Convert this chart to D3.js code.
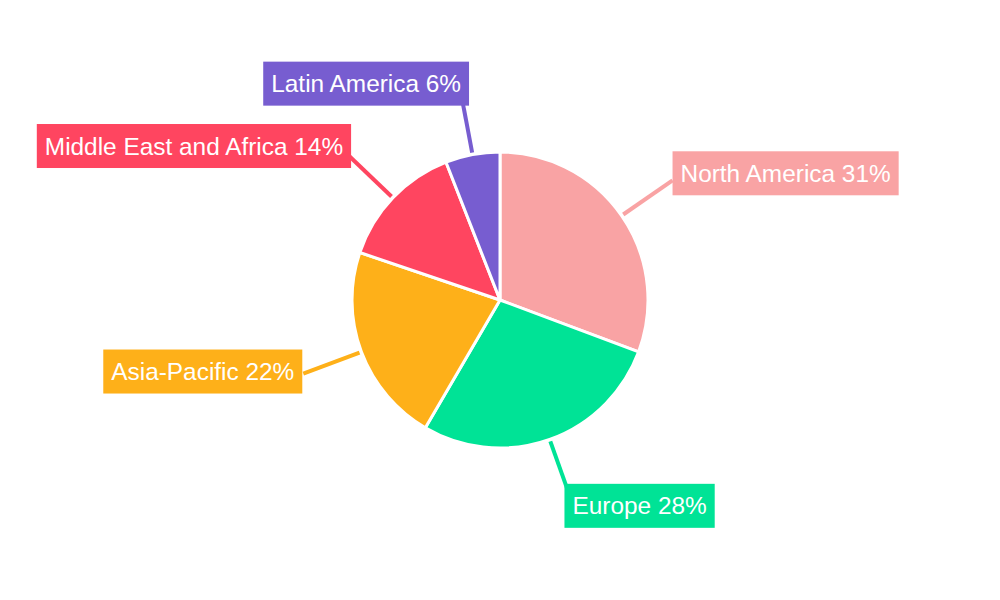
<!DOCTYPE html>
<html>
<head>
<meta charset="utf-8">
<script src="https://cdn.jsdelivr.net/npm/d3@7"></script>
<style>
  html, body { margin: 0; padding: 0; background: #fff; }
  svg { display: block; }
  text { font-family: "Liberation Sans", Arial, sans-serif; }
</style>
</head>
<body>
<svg id="chart" width="1000" height="600"></svg>
<script>
// ---- data ----
const categories = ["North America", "Europe", "Asia-Pacific", "Middle East and Africa", "Latin America"];
const shares = [31, 28, 22, 14, 6];
const colors = ["#F9A3A4", "#00E396", "#FEB019", "#FF4560", "#775DD0"];

// ---- layout (label nudges, px) ----
const labelShift = [[0, -7], [-6, 8], [-1, -2], [3, -9], [8, -10]];

const W = 1000, H = 600;
const cx = 500, cy = 300, R = 148;
const lineStart = 150, lineEnd = 210;
const fontSize = 24.4, boxH = 44, padX = 8;

const svg = d3.select("#chart");
const g = svg.append("g").attr("transform", `translate(${cx},${cy})`);

const pie = d3.pie().sort(null).value(d => d)(shares);
const arc = d3.arc().innerRadius(0).outerRadius(R);

g.selectAll("path.slice")
  .data(pie)
  .join("path")
  .attr("class", "slice")
  .attr("d", arc)
  .attr("fill", (d, i) => colors[i])
  .attr("stroke", "#fff")
  .attr("stroke-width", 3)
  .attr("stroke-linejoin", "round");

const polar = (a, r) => [r * Math.sin(a), -r * Math.cos(a)];

const labels = g.selectAll("g.lab")
  .data(pie)
  .join("g")
  .attr("class", "lab");

labels.append("line")
  .each(function (d, i) {
    const mid = (d.startAngle + d.endAngle) / 2;
    const p0 = polar(mid, lineStart), p1 = polar(mid, lineEnd);
    d3.select(this)
      .attr("x1", p0[0]).attr("y1", p0[1])
      .attr("x2", p1[0]).attr("y2", p1[1]);
  })
  .attr("stroke", (d, i) => colors[i])
  .attr("stroke-width", 4);

labels.each(function (d, i) {
  const sel = d3.select(this);
  const mid = (d.startAngle + d.endAngle) / 2;
  const end = polar(mid, lineEnd);
  const right = mid < Math.PI;
  const txt = `${categories[i]} ${shares[i]}%`;
  const rect = sel.append("rect");
  const t = sel.append("text")
    .attr("fill", "#fff")
    .attr("font-size", fontSize)
    .attr("text-anchor", "middle")
    .text(txt);
  const tw = t.node().getComputedTextLength();
  const bw = tw + padX * 2;
  const bx = (right ? end[0] : end[0] - bw) + labelShift[i][0];
  const by = end[1] - boxH / 2 + labelShift[i][1];
  rect.attr("x", bx).attr("y", by).attr("width", bw).attr("height", boxH)
    .attr("fill", colors[i]);
  t.attr("x", bx + bw / 2).attr("y", by + boxH / 2 + fontSize * 0.35);
});
</script>
</body>
</html>
